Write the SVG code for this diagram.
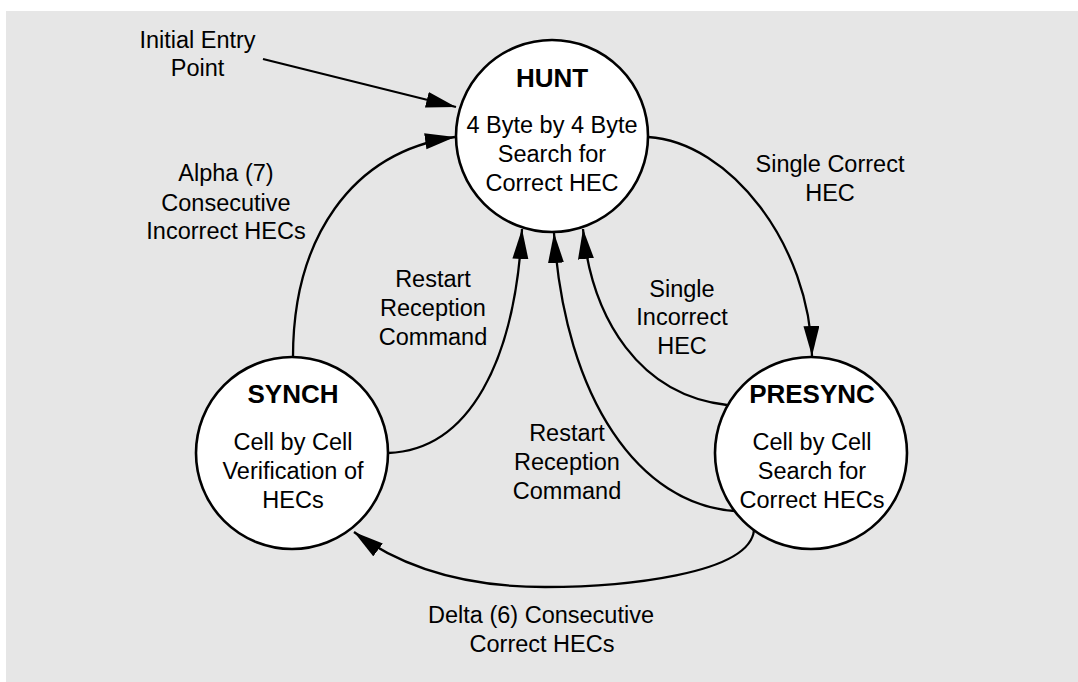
<svg xmlns="http://www.w3.org/2000/svg" width="1078" height="682" viewBox="0 0 1078 682">
<style>
.bg{fill:#e6e6e6}
.node{fill:#ffffff;stroke:#000000;stroke-width:2.6}
.edge{fill:none;stroke:#000000;stroke-width:2.3}
text{font-family:"Liberation Sans",Arial,Helvetica,sans-serif;fill:#000000;text-anchor:middle}
.t{font-size:26px;font-weight:bold}
.b{font-size:23.5px}
</style>
<defs>
<marker id="arr" markerUnits="userSpaceOnUse" markerWidth="31" markerHeight="17" refX="30" refY="8" orient="auto" viewBox="0 0 31 17">
<path d="M0,0 L30,8 L0,16 Z" fill="#000000"/>
</marker>
</defs>
<rect class="bg" x="6" y="11" width="1072" height="671"/>
<g id="connectors">
<line id="e-initial" class="edge" x1="263" y1="59" x2="456" y2="107" marker-end="url(#arr)"/>
<path id="e-alpha" class="edge" d="M293,357 C293,240 350,152 455,137" marker-end="url(#arr)"/>
<path id="e-restart1" class="edge" d="M388,453 C470,450 515,360 522,229" marker-end="url(#arr)"/>
<path id="e-restart2" class="edge" d="M735,511 C640,505 565,400 554,233" marker-end="url(#arr)"/>
<path id="e-incorrect" class="edge" d="M727,405 C640,395 592,320 583,229" marker-end="url(#arr)"/>
<path id="e-correct" class="edge" d="M648,137 C730,142 810,245 812,356" marker-end="url(#arr)"/>
<path id="e-delta" class="edge" d="M754,530 C750,575 620,587 545,587 C470,587 405,570 354,532" marker-end="url(#arr)"/>
<text class="b" x="197.5" y="47.7">Initial Entry</text>
<text class="b" x="197.5" y="76">Point</text>
<text class="b" x="226" y="181">Alpha (7)</text>
<text class="b" x="226" y="210.5">Consecutive</text>
<text class="b" x="226" y="239">Incorrect HECs</text>
<text class="b" x="830" y="172.3">Single Correct</text>
<text class="b" x="830" y="200.5">HEC</text>
<text class="b" x="433" y="286.7">Restart</text>
<text class="b" x="433" y="315.7">Reception</text>
<text class="b" x="433" y="345">Command</text>
<text class="b" x="682" y="296.5">Single</text>
<text class="b" x="682" y="325">Incorrect</text>
<text class="b" x="682" y="353.5">HEC</text>
<text class="b" x="567" y="440.7">Restart</text>
<text class="b" x="567" y="470">Reception</text>
<text class="b" x="567" y="499">Command</text>
<text class="b" x="541" y="622.7">Delta (6) Consecutive</text>
<text class="b" x="542" y="651.7">Correct HECs</text>
</g>
<g id="hunt">
<circle class="node" cx="552" cy="136" r="96"/>
<text class="t" x="552" y="86.7">HUNT</text>
<text class="b" x="552" y="132.7">4 Byte by 4 Byte</text>
<text class="b" x="552" y="161.7">Search for</text>
<text class="b" x="552" y="191">Correct HEC</text>
</g>
<g id="synch">
<circle class="node" cx="292" cy="453" r="96"/>
<text class="t" x="293" y="403.3">SYNCH</text>
<text class="b" x="293" y="450">Cell by Cell</text>
<text class="b" x="293" y="479.3">Verification of</text>
<text class="b" x="293" y="508.3">HECs</text>
</g>
<g id="presync">
<circle class="node" cx="811" cy="453" r="96"/>
<text class="t" x="812" y="403.3">PRESYNC</text>
<text class="b" x="812" y="450">Cell by Cell</text>
<text class="b" x="812" y="479.3">Search for</text>
<text class="b" x="812" y="508.3">Correct HECs</text>
</g>
</svg>
